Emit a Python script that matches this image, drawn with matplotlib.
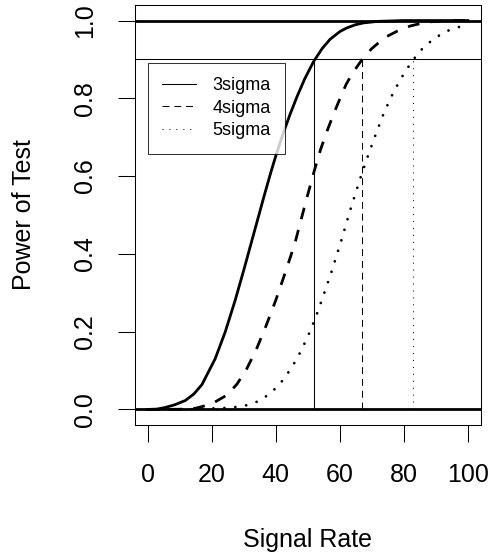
import matplotlib
matplotlib.use("Agg")
import matplotlib.pyplot as plt
from matplotlib.lines import Line2D

plt.rcParams['font.family'] = ['Liberation Sans', 'DejaVu Sans']
plt.rcParams['lines.scale_dashes'] = False

# power curves
x3 = [0, 3, 5.5, 8.5, 11.8, 14.5, 17, 21.1, 24.2, 27.3, 30, 33.5, 36.5, 38.5, 40.3,
      42.4, 44.5, 46.6, 49, 51.8, 54.5, 57, 60.1, 62.2, 64.8, 67.4, 72, 76, 80, 90, 100]
y3 = [0, 0.001, 0.005, 0.012, 0.023, 0.040, 0.064, 0.130, 0.198, 0.279, 0.357, 0.462,
      0.552, 0.61, 0.659, 0.711, 0.759, 0.803, 0.849, 0.894, 0.928, 0.952, 0.972, 0.981,
      0.989, 0.994, 0.998, 0.999, 1, 1, 1]

x4 = [0, 10, 15, 20, 25, 28, 31, 34, 37, 40, 43, 46, 48, 50, 52, 54, 56, 58, 60, 62,
      64, 67, 70, 74, 78, 82, 87, 93, 100]
y4 = [0, 0.0005, 0.003, 0.014, 0.038, 0.066, 0.105, 0.155, 0.215, 0.28, 0.352, 0.427,
      0.49, 0.552, 0.612, 0.668, 0.715, 0.758, 0.798, 0.836, 0.865, 0.9, 0.928, 0.956,
      0.973, 0.986, 0.996, 0.9995, 1.0]

x5 = [0, 10, 16, 21.1, 24.8, 28.4, 31.7, 35.1, 37.9, 40.7, 42.9, 44.8, 46.7, 49.8,
      52.5, 54.9, 57.2, 60.4, 63.4, 66.6, 69.0, 71.4, 73.9, 76.9, 80.4, 84.5, 87.1,
      89.8, 92.8, 96.2, 100]
y5 = [0, 0, 0.001, 0.003, 0.004, 0.007, 0.012, 0.023, 0.039, 0.06, 0.082, 0.106,
      0.131, 0.183, 0.237, 0.293, 0.348, 0.432, 0.516, 0.599, 0.657, 0.711, 0.765,
      0.818, 0.869, 0.917, 0.938, 0.955, 0.971, 0.981, 0.99]

# signal rate where each curve reaches 90% power
x90 = [52.1, 67.0, 82.9]
labels = ['3sigma', '4sigma', '5sigma']

fig = plt.figure(figsize=(4.94, 5.57), dpi=100)
ax = fig.add_axes([134.7/494, 1 - 425/557, 346/494, 420/557])

thick = 2.0
thin = 0.75
dash_thick = (0, (8.5, 8))
dot_thick = (0, (0.01, 7.9))
dash_thin = (0, (5, 3.5))
dot_thin = (0, (0.7, 4.3))

ax.plot(x3, y3, color='black', lw=thick)
ax.plot(x4, y4, color='black', lw=thick, linestyle=dash_thick)
ax.plot(x5, y5, color='black', lw=thick, linestyle=dot_thick, dash_capstyle='round')

ax.axhline(0, color='black', lw=thick)
ax.axhline(1, color='black', lw=thick)
ax.axhline(0.9, color='black', lw=thin)

ax.plot([x90[0], x90[0]], [0, 0.9], color='black', lw=thin)
ax.plot([x90[1], x90[1]], [0, 0.9], color='black', lw=thin, linestyle=dash_thin)
ax.plot([x90[2], x90[2]], [0, 0.9], color='black', lw=thin, linestyle=dot_thin)

ax.set_xlim(-4, 104)
ax.set_ylim(-0.04, 1.04)
ax.set_xticks([0, 20, 40, 60, 80, 100])
ax.set_yticks([0, 0.2, 0.4, 0.6, 0.8, 1.0])
ax.set_yticklabels(['0.0', '0.2', '0.4', '0.6', '0.8', '1.0'])
for s in ax.spines.values():
    s.set_linewidth(thin)
ax.tick_params(axis='both', length=12, width=thin, labelsize=18)
ax.tick_params(axis='x', pad=15)
ax.tick_params(axis='y', pad=15)
for t in ax.get_yticklabels():
    t.set_rotation(90)
    t.set_va('center')

handles = [Line2D([], [], color='black', lw=thin),
           Line2D([], [], color='black', lw=thin, linestyle=dash_thin),
           Line2D([], [], color='black', lw=thin, linestyle=dot_thin)]
leg = ax.legend(handles, labels, loc='upper left', bbox_to_anchor=(0, 0.891),
                bbox_transform=ax.transData, fontsize=13, frameon=True, fancybox=False,
                borderaxespad=0, borderpad=0.8, handlelength=1.9, handletextpad=0.9,
                labelspacing=0.3)
leg.get_frame().set_edgecolor('black')
leg.get_frame().set_linewidth(thin)

fig.text(0.5 * (134.7 + 480.7) / 494, 10.3 / 557, 'Signal Rate', fontsize=18,
         ha='center', va='baseline')
fig.text(24 / 494, 1 - 215 / 557, 'Power of Test', fontsize=18, rotation=90,
         ha='center', va='center')

fig.savefig('out.png', dpi=100)
